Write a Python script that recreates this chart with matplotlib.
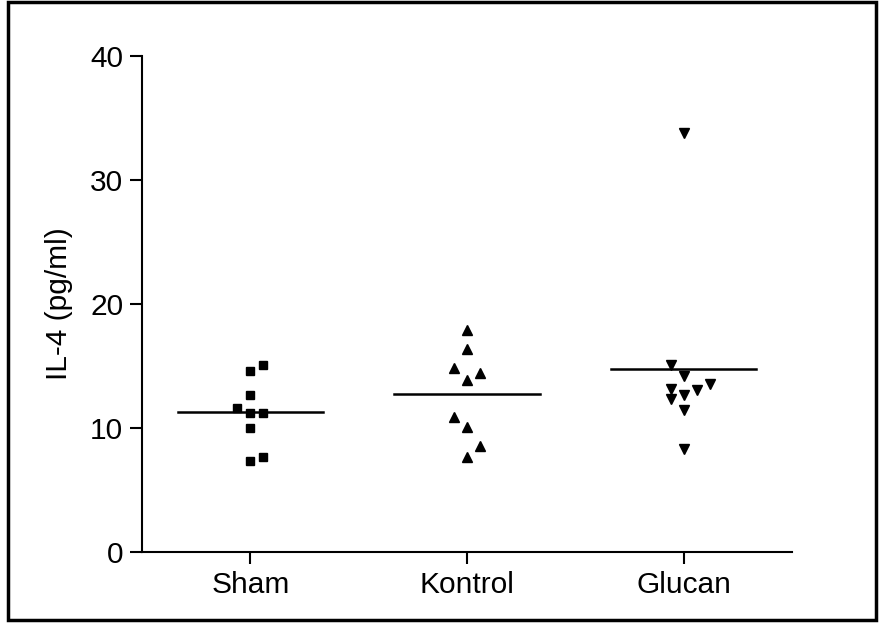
import numpy as np
import matplotlib
matplotlib.use('Agg')
import matplotlib.pyplot as plt
from matplotlib.patches import Rectangle

plt.rcParams['font.family'] = ['Liberation Sans', 'DejaVu Sans']

groups = ['Sham', 'Kontrol', 'Glucan']
sham = [15.1, 14.6, 12.7, 11.6, 11.2, 11.25, 10.0, 7.65, 7.35]
kontrol = [17.9, 16.35, 14.85, 14.4, 13.9, 10.9, 10.1, 8.55, 7.7]
glucan = [33.8, 15.05, 14.2, 13.55, 13.05, 13.15, 12.65, 12.3, 11.45, 8.3]
yticks = [0, 10, 20, 30, 40]

# column scatter offsets (in marker columns)
sham_cols = [1, 0, 0, -1, 0, 1, 0, 1, 0]
kontrol_cols = [0, 0, -1, 1, 0, -1, 0, 1, 0]
glucan_cols = [0, -1, 0, 2, 1, -1, 0, -1, 0, 0]

fig = plt.figure(figsize=(8.81, 6.23), dpi=100)
ax = fig.add_axes([142/881, 1-552/623, 650/881, 496/623])

step = 0.06
markers = ['s', '^', 'v']
sizes = [6.2, 7.5, 7.5]
for i, (vals, cols) in enumerate([(sham, sham_cols), (kontrol, kontrol_cols), (glucan, glucan_cols)]):
    xs = i + step*np.array(cols)
    ax.plot(xs, vals, linestyle='none', marker=markers[i], markersize=sizes[i],
            color='black', clip_on=False)
    m = np.mean(vals)
    ax.plot([i-0.335, i+0.335], [m, m], color='black', linewidth=1.8)

ax.set_xlim(-0.5, 2.5)
ax.set_ylim(0, 40)
ax.set_xticks(range(3))
ax.set_xticklabels(groups)
ax.set_yticks(yticks)
ax.set_ylabel('IL-4 (pg/ml)', fontsize=21.5, labelpad=12)
ax.tick_params(labelsize=21.5, width=1.5, length=8.5, pad=5)
for s in ['top', 'right']:
    ax.spines[s].set_visible(False)
for s in ['left', 'bottom']:
    ax.spines[s].set_linewidth(1.5)

fig.patches.append(Rectangle((8/881, 3/623), 868/881, 618/623, transform=fig.transFigure,
                             fill=False, edgecolor='black', linewidth=2.5))

fig.savefig('out.png', dpi=100)
